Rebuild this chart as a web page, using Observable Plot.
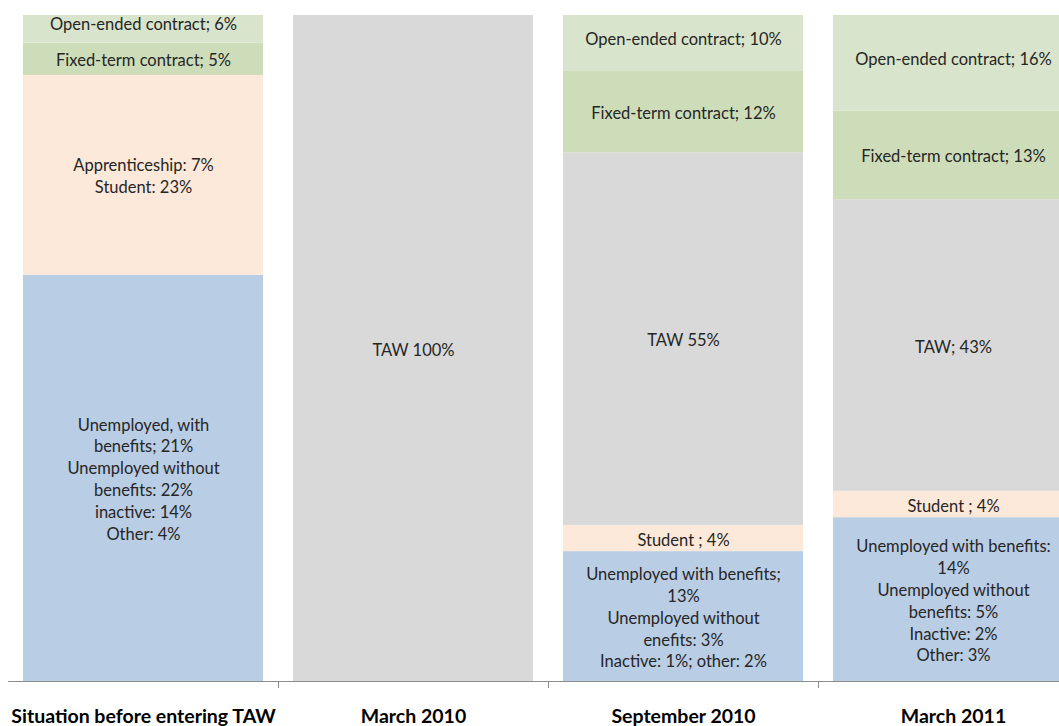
<!DOCTYPE html>
<html><head><meta charset="utf-8">
<script src="https://cdn.jsdelivr.net/npm/d3@7"></script>
<script src="https://cdn.jsdelivr.net/npm/@observablehq/plot@0.6"></script>
<style>body{margin:0;background:#fff;}</style>
</head><body><div id="chart"></div>
<script>
// Categories (x)
const periods = ["Situation before entering TAW", "March 2010", "September 2010", "March 2011"];
// Series, bottom to top
const statuses = ["Unemployed / inactive / other", "Student / apprenticeship", "TAW", "Fixed-term contract", "Open-ended contract"];
// Segment sizes (% of sample)
const unemployedValues = [61, 0, 19.5, 24.6];
const studentValues    = [30, 0, 3.9, 3.95];
const tawValues        = [0, 100, 56, 43.8];
const fixedValues      = [4.85, 0, 12.3, 13.3];
const openValues       = [6, 0, 10, 16];
// Data labels
const unemployedLabels = [
  "Unemployed, with\nbenefits; 21%\nUnemployed without\nbenefits: 22%\ninactive: 14%\nOther: 4%",
  "",
  "Unemployed with benefits;\n13%\nUnemployed without\nenefits: 3%\nInactive: 1%; other: 2%",
  "Unemployed with benefits:\n14%\nUnemployed without\nbenefits: 5%\nInactive: 2%\nOther: 3%"
];
const studentLabels = ["Apprenticeship: 7%\nStudent: 23%", "", "Student ; 4%", "Student ; 4%"];
const tawLabels     = ["", "TAW 100%", "TAW 55%", "TAW; 43%"];
const fixedLabels   = ["Fixed-term contract; 5%", "", "Fixed-term contract; 12%", "Fixed-term contract; 13%"];
const openLabels    = ["Open-ended contract; 6%", "", "Open-ended contract; 10%", "Open-ended contract; 16%"];
const colors = ["#B9CDE5", "#FDE9D9", "#D9D9D9", "#CEDDB9", "#D8E4CB"];

const valuesBy = [unemployedValues, studentValues, tawValues, fixedValues, openValues];
const labelsBy = [unemployedLabels, studentLabels, tawLabels, fixedLabels, openLabels];
const rows = [];
statuses.forEach((s, si) => periods.forEach((p, pi) => {
  if (valuesBy[si][pi] > 0) rows.push({period: p, status: s, value: valuesBy[si][pi], label: labelsBy[si][pi]});
}));

const W = 1059, H = 726, mTop = 15, mBottom = 45, mLeft = 8;
const step = 270;
const chart = Plot.plot({
  width: W, height: H,
  marginTop: mTop, marginBottom: mBottom, marginLeft: mLeft, marginRight: 0,
  style: {fontFamily: "Lato, sans-serif", background: "#fff", overflow: "visible"},
  x: {domain: periods, range: [mLeft, mLeft + step * periods.length], paddingInner: 30 / step, paddingOuter: 15 / step, label: null},
  y: {domain: [0, 100], axis: null},
  color: {domain: statuses, range: colors},
  marks: [
    Plot.barY(rows, {x: "period", y: "value", fill: "status", clip: true}),
    Plot.text(rows, Plot.stackY({x: "period", y: "value", z: "status", text: "label",
      fontSize: 16.5, lineHeight: 1.33, fill: "#262626", letterSpacing: "0.35px"})),
    Plot.ruleY([0], {stroke: "#8c8c8c", strokeWidth: 1.2}),
    Plot.ruleX(periods.slice(1), {x: d => d, dx: -step / 2, insetTop: H - mTop - mBottom, insetBottom: -7, stroke: "#8c8c8c"}),
    Plot.axisX({tickSize: 0, tickPadding: 28, fontSize: 19.5, fontWeight: "bold", fill: "#000", letterSpacing: "0.3px", label: null})
  ]
});
document.getElementById("chart").append(chart);
</script>
</body></html>
